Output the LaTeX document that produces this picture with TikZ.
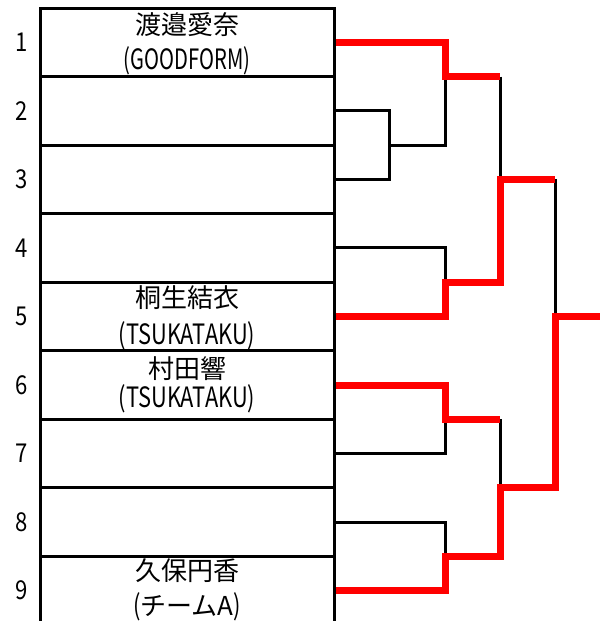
\documentclass[tikz,border=0pt]{standalone}
\usepackage{fontspec}
\usepackage{graphicx}
\setmainfont{Noto Sans CJK JP}
\newcommand{\lat}[2][0.78]{\scalebox{#1}[1]{\fontsize{28}{28}\selectfont #2}}
\begin{document}
\begin{tikzpicture}[x=1pt,y=-1pt,
  rowbox/.style={draw=black,line width=3pt,minimum width=294pt,minimum height=68.55pt,inner sep=0pt},
  nametext/.style={inner sep=0pt,anchor=center,font=\fontsize{26}{26}\selectfont},
  numlabel/.style={inner sep=0pt,font=\fontsize{26}{26}\selectfont},
  blk/.style={draw=black,line width=3pt,line join=miter},
  win/.style={draw=red,line width=7pt,line join=miter}]
\useasboundingbox (0,0) rectangle (605,621);
\fill[white] (0,0) rectangle (605,621);
% rows
\node[rowbox] (r1) at (187,42.3) {};
\node[rowbox] (r2) at (187,110.8) {};
\node[rowbox] (r3) at (187,179.4) {};
\node[rowbox] (r4) at (187,247.9) {};
\node[rowbox] (r5) at (187,316.5) {};
\node[rowbox] (r6) at (187,385.0) {};
\node[rowbox] (r7) at (187,453.6) {};
\node[rowbox] (r8) at (187,522.1) {};
\node[rowbox] (r9) at (187,590.7) {};
% names
\node[nametext] (t1a) at (187,25) {渡邉愛奈};
\node[nametext] (t1b) at (187,61) {\lat[0.72]{(GOODFORM)}};
\node[nametext] (t5a) at (187,298) {桐生結衣};
\node[nametext] (t5b) at (187,336) {\lat{(TSUKATAKU)}};
\node[nametext] (t6a) at (187,369) {村田響};
\node[nametext] (t6b) at (187,399) {\lat{(TSUKATAKU)}};
\node[nametext] (t9a) at (187,571) {久保円香};
\node[nametext] (t9b) at (187,607) {\lat{(}チームA\lat{)}};
% numbers
\foreach \i/\y in {1/42.3,2/110.8,3/179.4,4/247.9,5/316.5,6/385.0,7/453.6,8/522.1,9/590.7}
  \node[numlabel] (n\i) at (22,\y) {\scalebox{0.85}[1]{\i}};
% junction coordinates
\coordinate (j23) at (389,145.1);
\coordinate (j1) at (445,76.6);
\coordinate (j45) at (445,282.2);
\coordinate (jA) at (500,179.4);
\coordinate (j67) at (445,419.3);
\coordinate (j89) at (445,556.4);
\coordinate (jB) at (500,487.9);
\coordinate (jF) at (555,316.5);
\coordinate (fin) at (600,316.5);
% black lines
\draw[blk] (r2.east) -| (j23);
\draw[blk] (r3.east) -| (j23);
\draw[blk] (j23) -| (j1);
\draw[blk] (r4.east) -| (j45);
\draw[blk] (j1 -| jA) -- (jA);
\draw[blk] (r7.east) -| (j67);
\draw[blk] (r8.east) -| (j89);
\draw[blk] (j67 -| jB) -- (jB);
\draw[blk] (jA -| jF) -- (jF);
% winners
\draw[win] (r1.east) -| (j1) -- (j1 -| jA);
\draw[win] (r5.east) -| (j45) -| (jA) -- (jA -| jF);
\draw[win] (r6.east) -| (j67) -- (j67 -| jB);
\draw[win] (r9.east) -| (j89) -| (jB) -| (jF) -- (fin);
\end{tikzpicture}
\end{document}
